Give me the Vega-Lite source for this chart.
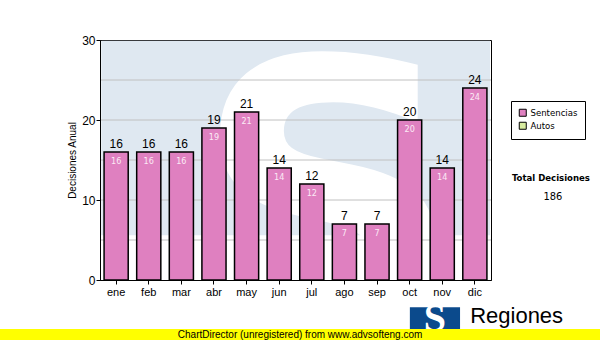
{
  "$schema": "https://vega.github.io/schema/vega-lite/v6.json",
  "width": 391,
  "height": 240,
  "autosize": {"type": "none"},
  "padding": {"left": 100, "top": 40, "right": 109, "bottom": 60},
  "background": "#ffffff",
  "config": {
    "view": {"stroke": "#000000", "strokeWidth": 1},
    "font": "Liberation Sans"
  },
  "data": {
    "values": [
      {"mes": "ene", "valor": 16, "tipo": "Sentencias"},
      {"mes": "feb", "valor": 16, "tipo": "Sentencias"},
      {"mes": "mar", "valor": 16, "tipo": "Sentencias"},
      {"mes": "abr", "valor": 19, "tipo": "Sentencias"},
      {"mes": "may", "valor": 21, "tipo": "Sentencias"},
      {"mes": "jun", "valor": 14, "tipo": "Sentencias"},
      {"mes": "jul", "valor": 12, "tipo": "Sentencias"},
      {"mes": "ago", "valor": 7, "tipo": "Sentencias"},
      {"mes": "sep", "valor": 7, "tipo": "Sentencias"},
      {"mes": "oct", "valor": 20, "tipo": "Sentencias"},
      {"mes": "nov", "valor": 14, "tipo": "Sentencias"},
      {"mes": "dic", "valor": 24, "tipo": "Sentencias"}
    ]
  },
  "layer": [
    {
      "layer": [
        {
          "data": {"values": [{}]},
          "mark": {"type": "rect", "color": "#dfe8f1"},
          "encoding": {
            "x": {"datum": 0.04, "type": "quantitative", "scale": {"domain": [0, 12], "nice": false, "zero": false}, "axis": null},
            "x2": {"datum": 11.97},
            "y": {"datum": 29.9, "type": "quantitative"},
            "y2": {"datum": 5.6}
          }
        },
        {
          "data": {"values": [{}]},
          "mark": {"type": "text", "text": "S", "font": "DejaVu Sans", "fontWeight": "bold", "fontSize": 375, "color": "#ffffff", "clip": true, "align": "center", "baseline": "alphabetic"},
          "encoding": {
            "x": {"datum": 7.0, "type": "quantitative", "axis": null},
            "y": {"datum": -6.2, "type": "quantitative"}
          }
        },
        {
          "data": {"values": [{}]},
          "mark": {"type": "rect", "color": "#0b4a8c"},
          "encoding": {
            "x": {"datum": 9.51, "type": "quantitative", "axis": null},
            "x2": {"datum": 11.05},
            "y": {"datum": -3.4, "type": "quantitative"},
            "y2": {"datum": -6.5}
          }
        },
        {
          "data": {"values": [{}]},
          "mark": {"type": "text", "text": "S", "font": "Liberation Serif", "fontWeight": "bold", "fontSize": 40, "color": "#ffffff", "align": "center", "baseline": "alphabetic"},
          "encoding": {
            "x": {"datum": 10.28, "type": "quantitative", "axis": null},
            "y": {"datum": -6.4, "type": "quantitative"}
          }
        },
        {
          "data": {"values": [{}]},
          "mark": {"type": "text", "text": "Regiones", "font": "Liberation Sans", "fontSize": 22, "color": "#000000", "align": "left", "baseline": "alphabetic"},
          "encoding": {
            "x": {"datum": 11.36, "type": "quantitative", "axis": null},
            "y": {"datum": -5.375, "type": "quantitative"}
          }
        },
        {
          "data": {"values": [{}]},
          "mark": {"type": "rect", "color": "#ffff00"},
          "encoding": {
            "x": {"datum": -3.07, "type": "quantitative", "axis": null},
            "x2": {"datum": 15.35},
            "y": {"datum": -6.125, "type": "quantitative"},
            "y2": {"datum": -7.5}
          }
        },
        {
          "data": {"values": [{}]},
          "mark": {"type": "text", "text": "ChartDirector (unregistered) from www.advsofteng.com", "font": "Liberation Sans", "fontSize": 10, "color": "#000000", "align": "center", "baseline": "middle"},
          "encoding": {
            "x": {"datum": 6.14, "type": "quantitative", "axis": null},
            "y": {"datum": -6.85, "type": "quantitative"}
          }
        },
        {
          "data": {"values": [{}]},
          "mark": {"type": "text", "text": "Total Decisiones", "font": "DejaVu Sans Condensed", "fontWeight": "bold", "fontSize": 9.5, "color": "#000000", "align": "center", "baseline": "middle"},
          "encoding": {
            "x": {"datum": 13.84, "type": "quantitative", "axis": null},
            "y": {"datum": 12.75, "type": "quantitative"}
          }
        },
        {
          "data": {"values": [{}]},
          "mark": {"type": "text", "text": "186", "font": "DejaVu Sans Condensed", "fontSize": 11, "color": "#000000", "align": "center", "baseline": "middle"},
          "encoding": {
            "x": {"datum": 13.9, "type": "quantitative", "axis": null},
            "y": {"datum": 10.4, "type": "quantitative"}
          }
        }
      ]
    },
    {
      "layer": [
        {
          "data": {"values": [{"g": 5}, {"g": 10}, {"g": 15}, {"g": 20}, {"g": 25}]},
          "mark": {"type": "rule", "color": "#c0c0c0", "strokeWidth": 1},
          "encoding": {
            "y": {"field": "g", "type": "quantitative"}
          }
        },
        {
          "mark": {"type": "bar", "stroke": "#000000", "strokeWidth": 1.5, "opacity": 1},
          "encoding": {
            "x": {
              "field": "mes", "type": "nominal", "sort": null,
              "scale": {"paddingInner": 0.26, "paddingOuter": 0.125},
              "axis": {"orient": "bottom", "title": null, "labelAngle": 0, "labelFont": "Liberation Sans", "labelFontSize": 11, "labelColor": "#000000", "tickColor": "#000000", "tickSize": 4, "domainColor": "#000000", "labelPadding": 2, "zindex": 1}
            },
            "y": {
              "field": "valor", "type": "quantitative",
              "scale": {"domain": [0, 30], "nice": false, "zero": false},
              "axis": {"orient": "left", "title": "Decisiones Anual", "titleFont": "Liberation Sans", "titleFontSize": 10, "titleFontWeight": "normal", "titleColor": "#000000", "titlePadding": 4, "values": [0, 5, 10, 15, 20, 25, 30], "labelOverlap": false, "grid": false, "labelFont": "Liberation Sans", "labelFontSize": 12, "labelColor": "#000000", "tickColor": "#000000", "tickSize": 4, "labelPadding": 1, "domainColor": "#000000", "zindex": 1}
            },
            "color": {
              "field": "tipo", "type": "nominal",
              "scale": {"domain": ["Sentencias", "Autos"], "range": ["#df80c0", "#d8eca0"]},
              "legend": {"title": null, "orient": "none", "legendX": 411, "legendY": 61, "strokeColor": "#000000", "fillColor": "#ffffff", "padding": 7, "symbolType": "square", "symbolSize": 49, "symbolStrokeColor": "#000000", "symbolStrokeWidth": 1, "symbolOpacity": 1, "labelFont": "DejaVu Sans Condensed", "labelFontSize": 9.5, "labelColor": "#000000", "rowPadding": 1, "labelOffset": 3}
            }
          }
        },
        {
          "mark": {"type": "text", "font": "Liberation Sans", "fontSize": 12, "color": "#000000", "baseline": "bottom", "dy": -1},
          "encoding": {
            "x": {"field": "mes", "type": "nominal", "sort": null},
            "y": {"field": "valor", "type": "quantitative"},
            "text": {"field": "valor", "type": "quantitative"}
          }
        },
        {
          "mark": {"type": "text", "font": "DejaVu Sans Condensed", "fontSize": 9, "color": "#fbeaf5", "baseline": "middle", "dy": 9},
          "encoding": {
            "x": {"field": "mes", "type": "nominal", "sort": null},
            "y": {"field": "valor", "type": "quantitative"},
            "text": {"field": "valor", "type": "quantitative"}
          }
        }
      ]
    }
  ],
  "resolve": {"scale": {"x": "independent", "color": "independent"}}
}
